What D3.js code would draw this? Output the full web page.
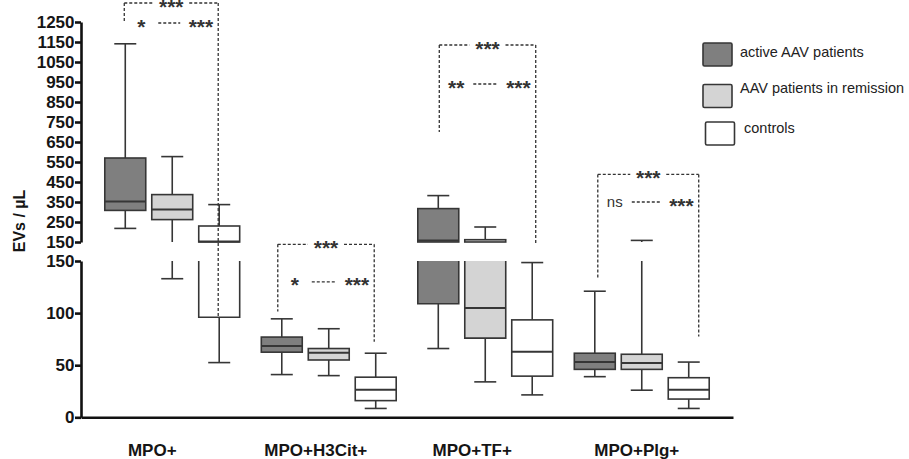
<!DOCTYPE html>
<html>
<head>
<meta charset="utf-8">
<script src="https://cdn.jsdelivr.net/npm/d3@7"></script>
<style>
  html, body { margin: 0; padding: 0; background: #fff; }
  svg { display: block; font-family: "Liberation Sans", Arial, sans-serif; }
  .axis path, .axis line { stroke: #111; stroke-width: 2.6; }
  .axis text { font-size: 17px; font-weight: bold; fill: #151515; }
</style>
</head>
<body>
<div id="chart"></div>
<script>
var categories = ["MPO+", "MPO+H3Cit+", "MPO+TF+", "MPO+Plg+"];
var series = ["active AAV patients", "AAV patients in remission", "controls"];

// [min, q1, median, q3, max] for each category
var active    = [[218, 308, 353, 570, 1141], [41, 62.5, 68.5, 77, 94.5], [66, 109, 158, 317, 382], [39, 46, 53, 61.5, 121]];
var remission = [[133, 262, 312, 387, 577], [40, 55, 62, 66, 85], [34, 76, 105, 161.5, 225], [26, 46, 52, 60.5, 158]];
var controls  = [[52.5, 96, 152, 230, 337], [8.5, 16, 26.5, 38.5, 61.5], [21.5, 39.5, 63, 93.5, 148.5], [8.5, 17.5, 26.5, 38, 53]];

var upperTicks = d3.range(150, 1251, 100);
var lowerTicks = [0, 50, 100, 150];

var fills = ["#7f7f7f", "#d4d4d4", "#ffffff"];

// significance brackets, levels given as [value, axis segment]
var brackets = [
  {cat: "MPO+",       top: [1345, "hi"], row: [1245, "hi"], leftEnd: [1255, "hi"], rightEnd: [96, "lo"],   labels: ["***", "*", "***"],  dx: [-1, -1]},
  {cat: "MPO+H3Cit+", top: [166, "lo"],  row: [130, "lo"],  leftEnd: [101.5, "lo"], rightEnd: [72.5, "lo"], labels: ["***", "*", "***"], dx: [-4, -1.5]},
  {cat: "MPO+TF+",    top: [1135, "hi"], row: [940, "hi"],  leftEnd: [700, "hi"],  rightEnd: [143, "hi"],  labels: ["***", "**", "***"], dx: [1, 3.5]},
  {cat: "MPO+Plg+",   top: [488, "hi"],  row: [350, "hi"],  leftEnd: [133.5, "lo"], rightEnd: [77.5, "lo"], labels: ["***", "ns", "***"], dx: [3, 10]}
];

var labelNudge = [-20, -13, -13, -5];

var W = 909, H = 459;
var svg = d3.select("#chart").append("svg").attr("width", W).attr("height", H);

var x0 = d3.scaleBand().domain(categories).range([81, 733]).paddingOuter(0.083).paddingInner(0);
var x1 = d3.scaleBand().domain(series).range([0, x0.bandwidth()]).paddingInner(0.128).paddingOuter(0.23);

var yHi = d3.scaleLinear().domain([150, 1250]).range([242, 22]);
var yLo = d3.scaleLinear().domain([0, 150]).range([417.3, 261]);
var segs = [{name: "hi", y: yHi, min: 150, max: 1250}, {name: "lo", y: yLo, min: 0, max: 150}];

function yOf(p) { return (p[1] === "hi" ? yHi : yLo)(p[0]); }

// axes
svg.append("g").attr("class", "axis").attr("transform", "translate(81,0)")
  .call(d3.axisLeft(yHi).tickValues(upperTicks).tickFormat(d3.format("d"))
    .tickSize(6).tickSizeOuter(0).tickPadding(0.5));
svg.append("g").attr("class", "axis").attr("transform", "translate(81,0)")
  .call(d3.axisLeft(yLo).tickValues(lowerTicks).tickFormat(d3.format("d"))
    .tickSize(6).tickSizeOuter(0).tickPadding(0.5));

var xAxis = svg.append("g").attr("class", "axis").attr("transform", "translate(0," + yLo(0) + ")")
  .call(d3.axisBottom(x0).tickSize(0).tickSizeOuter(0).tickPadding(27));
xAxis.selectAll("text").attr("dx", function(d, i) { return labelNudge[i]; });

svg.append("text")
  .attr("transform", "translate(19,221) rotate(-90)")
  .attr("text-anchor", "middle").attr("dominant-baseline", "central")
  .style("font-size", "16px").style("font-weight", "bold").style("fill", "#151515")
  .text("EVs / µL");

// boxes
var data = [active, remission, controls];
var stroke = "#363636", sw = 1.6, capW = 22;
var gW = svg.append("g"), gB = svg.append("g"), gM = svg.append("g");

function inSeg(v, s) { return v >= s.min && v <= s.max; }

categories.forEach(function(cat, i) {
  series.forEach(function(ser, j) {
    var s = data[j][i];
    var left = x0(cat) + x1(ser), bw = x1.bandwidth(), cx = left + bw / 2;
    segs.forEach(function(sg) {
      var y = sg.y;
      // whiskers
      [[s[0], s[1]], [s[3], s[4]]].forEach(function(w, k) {
        var a = Math.max(w[0], sg.min), b = Math.min(w[1], sg.max);
        if (a < b) {
          gW.append("line").attr("x1", cx).attr("x2", cx).attr("y1", y(a)).attr("y2", y(b))
            .attr("stroke", stroke).attr("stroke-width", sw);
        }
        var end = k === 0 ? w[0] : w[1];
        if (inSeg(end, sg)) {
          gW.append("line").attr("x1", cx - capW / 2).attr("x2", cx + capW / 2)
            .attr("y1", y(end)).attr("y2", y(end)).attr("stroke", stroke).attr("stroke-width", sw);
        }
      });
      // box
      var lo = Math.max(s[1], sg.min), hi = Math.min(s[3], sg.max);
      if (lo < hi) {
        if (sg.name === "lo" && s[3] > sg.max) {
          gB.append("rect").attr("x", left).attr("y", y(hi)).attr("width", bw).attr("height", y(lo) - y(hi))
            .attr("fill", fills[j]);
          gB.append("path")
            .attr("d", "M" + left + "," + y(hi) + "V" + y(lo) + "H" + (left + bw) + "V" + y(hi))
            .attr("fill", "none").attr("stroke", stroke).attr("stroke-width", sw);
        } else {
          gB.append("rect").attr("x", left).attr("y", y(hi)).attr("width", bw).attr("height", y(lo) - y(hi))
            .attr("fill", fills[j]).attr("stroke", stroke).attr("stroke-width", sw);
        }
      }
      if (inSeg(s[2], sg) && s[2] !== sg.max) {
        gM.append("line").attr("x1", left).attr("x2", left + bw).attr("y1", y(s[2])).attr("y2", y(s[2]))
          .attr("stroke", stroke).attr("stroke-width", 2);
      }
    });
  });
});

// significance brackets
var gS = svg.append("g");
function dashed(x1_, y1_, x2_, y2_) {
  gS.append("line").attr("x1", x1_).attr("y1", y1_).attr("x2", x2_).attr("y2", y2_)
    .attr("stroke", "#333").attr("stroke-width", 1.3).attr("stroke-dasharray", "3,2");
}
function sigText(x, y, t, anchor) {
  var star = t.indexOf("*") >= 0;
  gS.append("text").attr("x", x).attr("y", y).attr("text-anchor", anchor)
    .attr("dy", star ? "0.5em" : "0.35em")
    .style("font-size", star ? "21px" : "15px").style("font-weight", star ? "bold" : "normal")
    .style("fill", "#333").text(t);
}
brackets.forEach(function(b) {
  var xl = x0(b.cat) + x1(series[0]) + x1.bandwidth() / 2 + b.dx[0];
  var xr = x0(b.cat) + x1(series[2]) + x1.bandwidth() / 2 + b.dx[1];
  var yt = yOf(b.top), yr = yOf(b.row), mid = (xl + xr) / 2;
  dashed(xl, yt, xl, yOf(b.leftEnd));
  dashed(xr, yt, xr, yOf(b.rightEnd));
  dashed(xl, yt, mid - 18, yt);
  dashed(mid + 18, yt, xr, yt);
  sigText(mid, yt, b.labels[0], "middle");
  sigText(xl + 17, yr, b.labels[1], "middle");
  dashed(xl + 34, yr, xr - 38, yr);
  sigText(xr - 5, yr, b.labels[2], "end");
});

// legend
var legendLayout = [
  {bx: 703, by: 43, tx: 740, ty: 57},
  {bx: 703, by: 84.5, tx: 740, ty: 92.7},
  {bx: 705.5, by: 122, tx: 744, ty: 133.3}
];
var lg = svg.append("g");
series.forEach(function(ser, j) {
  var L = legendLayout[j];
  lg.append("rect").attr("x", L.bx).attr("y", L.by).attr("width", 29).attr("height", 23).attr("rx", 1.5)
    .attr("fill", fills[j]).attr("stroke", stroke).attr("stroke-width", 1.6);
  lg.append("text").attr("x", L.tx).attr("y", L.ty)
    .style("font-size", "14.5px").style("fill", "#222").text(ser);
});
</script>
</body>
</html>
